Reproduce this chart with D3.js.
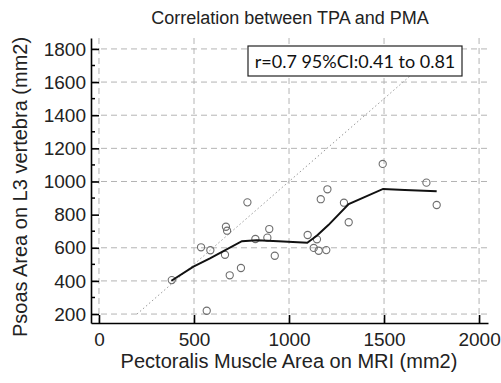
<!DOCTYPE html>
<html>
<head>
<meta charset="utf-8">
<script src="https://cdn.jsdelivr.net/npm/d3@7"></script>
<style>
  html, body { margin:0; padding:0; background:#fff; }
  svg { display:block; font-family:"Liberation Sans", Arial, sans-serif; }
</style>
</head>
<body>
<div id="chart" style="width:501px;height:383px"></div>
<script>
// scatter points (PMA mm2, TPA mm2)
const pma = [383, 567, 537, 586, 663, 668, 674, 688, 747, 781, 823, 886, 896, 925,
             1098, 1130, 1147, 1156, 1196, 1167, 1202, 1289, 1314, 1493, 1723, 1777];
const tpa = [405, 220, 603, 585, 558, 727, 703, 434, 478, 874, 653, 661, 713, 552,
             677, 599, 651, 582, 586, 893, 953, 872, 754, 1106, 993, 858];

// smoothed fit line
const fitX = [381, 497, 584, 752, 830, 944, 1096, 1146, 1207, 1314, 1495, 1609, 1777];
const fitY = [401, 486, 536, 640, 645, 640, 630, 672, 737, 864, 955, 949, 941];

// line of identity
const idLine = [200, 1800];

const xTicks = [0, 500, 1000, 1500, 2000];
const yTicks = [200, 400, 600, 800, 1000, 1200, 1400, 1600, 1800];
const yMinor = [300, 500, 700, 900, 1100, 1300, 1500, 1700];
const yGrid = [200, 400, 600, 1000, 1200, 1400, 1600, 1800];

const title = "Correlation between TPA and PMA";
const xTitle = "Pectoralis Muscle Area on MRI (mm2)";
const yTitle = "Psoas Area on L3 vertebra (mm2)";
const legendText = "r=0.7 95%CI:0.41 to 0.81";

const rootDOM = document.getElementById("chart");
const W = 501, H = 383;

const scaleX = d3.scaleLinear()
				.domain([-42, 2047])
				.range([91, 488]);

const scaleY = d3.scaleLinear()
				.domain([146, 1866])
				.range([323, 38]);

const svg = d3.select(rootDOM)
			.append("svg")
			.attr("width", W)
			.attr("height", H);

// grid
svg.append("g")
	.selectAll("line")
	.data(xTicks)
	.enter()
	.append("line")
	.attr("x1", d => scaleX(d)).attr("x2", d => scaleX(d))
	.attr("y1", scaleY(1866)).attr("y2", scaleY(146))
	.style("stroke", "#b4b4b4")
	.style("stroke-dasharray", "6,4");

svg.append("g")
	.selectAll("line")
	.data(yGrid)
	.enter()
	.append("line")
	.attr("x1", scaleX(-42)).attr("x2", scaleX(2047))
	.attr("y1", d => scaleY(d)).attr("y2", d => scaleY(d))
	.style("stroke", "#b4b4b4")
	.style("stroke-dasharray", "6,4");

// identity line
svg.append("line")
	.attr("x1", scaleX(idLine[0])).attr("y1", scaleY(idLine[0]))
	.attr("x2", scaleX(idLine[1])).attr("y2", scaleY(idLine[1]))
	.style("stroke", "#999")
	.style("stroke-width", 1)
	.style("stroke-dasharray", "1.5,2.5");

// points
svg.append("g")
	.selectAll("circle")
	.data(pma.map((x, i) => [x, tpa[i]]))
	.enter()
	.append("circle")
	.attr("cx", d => scaleX(d[0]))
	.attr("cy", d => scaleY(d[1]))
	.attr("r", 3.6)
	.style("fill", "none")
	.style("stroke", "#6e6e6e")
	.style("stroke-width", 1.1);

// fit line
const lineGenerator = d3.line()
						.x(d => scaleX(d[0]))
						.y(d => scaleY(d[1]));

svg.append("path")
	.datum(fitX.map((x, i) => [x, fitY[i]]))
	.attr("d", lineGenerator)
	.style("fill", "none")
	.style("stroke", "#111")
	.style("stroke-width", 2);

// axes
const axisX = d3.axisBottom(scaleX)
				.tickValues(xTicks)
				.tickFormat(d3.format("d"))
				.tickSizeInner(-8)
				.tickSizeOuter(0)
				.tickPadding(10);

const axisY = d3.axisLeft(scaleY)
				.tickValues(yTicks)
				.tickFormat(d3.format("d"))
				.tickSizeInner(-8)
				.tickSizeOuter(0)
				.tickPadding(5);

const gx = svg.append("g")
	.attr("transform", `translate(0,${scaleY(146)})`)
	.call(axisX);

const gy = svg.append("g")
	.attr("transform", `translate(${scaleX(-42)},0)`)
	.call(axisY);

gy.append("g")
	.selectAll("line")
	.data(yMinor)
	.enter()
	.append("line")
	.attr("x1", 0).attr("x2", 4)
	.attr("y1", d => scaleY(d)).attr("y2", d => scaleY(d))
	.style("stroke", "#000")
	.style("stroke-width", 1.5);

[gx, gy].forEach(g => {
	g.select(".domain").style("stroke", "#000").style("stroke-width", 1.6);
	g.selectAll(".tick line").style("stroke", "#000").style("stroke-width", 1.6);
	g.selectAll(".tick text")
		.style("font-family", "Liberation Sans, Arial, sans-serif")
		.style("font-size", "19px")
		.style("fill", "#222");
});

// legend box
const lg = svg.append("g");
lg.append("rect")
	.attr("x", 248).attr("y", 46)
	.attr("width", 214).attr("height", 30)
	.style("fill", "#fff")
	.style("stroke", "#222")
	.style("stroke-width", 1.2);
lg.append("text")
	.attr("x", 355).attr("y", 68)
	.attr("text-anchor", "middle")
	.style("font-family", "Lato, sans-serif")
	.style("font-size", "18px")
	.style("fill", "#111")
	.text(legendText);

// titles
svg.append("text")
	.attr("x", 290).attr("y", 24)
	.attr("text-anchor", "middle")
	.style("font-size", "18px")
	.style("fill", "#222")
	.text(title);

svg.append("text")
	.attr("x", 289).attr("y", 368)
	.attr("text-anchor", "middle")
	.style("font-size", "20px")
	.style("fill", "#222")
	.text(xTitle);

svg.append("text")
	.attr("transform", "translate(27,187) rotate(-90)")
	.attr("text-anchor", "middle")
	.style("font-size", "20px")
	.style("fill", "#222")
	.text(yTitle);
</script>
</body>
</html>
